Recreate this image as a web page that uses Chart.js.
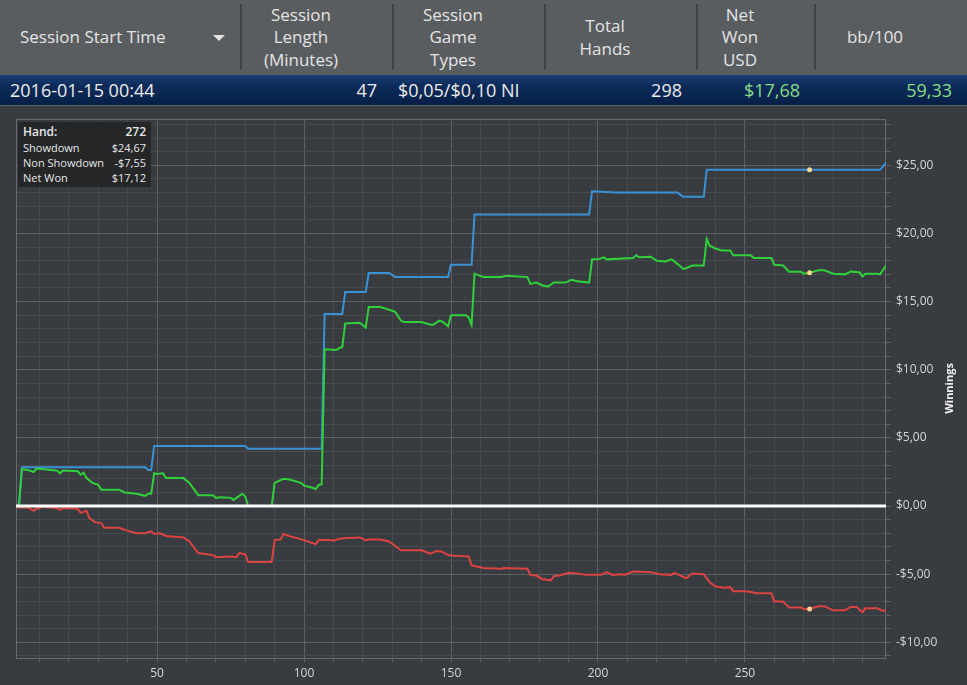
<!DOCTYPE html>
<html>
<head>
<meta charset="utf-8">
<title>Session Graph</title>
<script src="https://cdn.jsdelivr.net/npm/chart.js@4.4.1/dist/chart.umd.min.js"></script>
<style>
    html, body { margin: 0; padding: 0; }
    body {
        width: 967px; height: 685px; overflow: hidden; position: relative;
        background: #383b3f;
        font-family: "Open Sans", "Noto Sans", sans-serif;
    }
    .grid-header { position: absolute; left: 0; top: 0; width: 967px; height: 75px; background: #5a5d60; }
    .col {
        position: absolute; top: 0; height: 75px;
        display: flex; align-items: center; justify-content: center; text-align: center;
        color: #e4e4e4; font-size: 17px; line-height: 22.5px;
    }
    .col.first { justify-content: flex-start; padding-left: 20px; box-sizing: border-box; }
    .sort-arrow {
        position: absolute; left: 213px; top: 35px; width: 0; height: 0;
        border-left: 6px solid transparent; border-right: 6px solid transparent; border-top: 6px solid #e4e4e4;
    }
    .divider { position: absolute; top: 4px; width: 2px; height: 66px; background: #404246; }
    .grid-row {
        position: absolute; left: 0; top: 75px; width: 967px; height: 30px;
        background: linear-gradient(#1a4078 0%, #0c2b59 35%, #071f47 100%);
        border-bottom: 1px solid #606366;
    }
    .cell {
        position: absolute; top: 0; height: 30px; line-height: 30px;
        color: #ececec; font-size: 18px; white-space: nowrap;
    }
    .cell.green { color: #86dc86; }
    #chartWrap { position: absolute; left: 0; top: 106px; width: 967px; height: 579px; }
    .hover-box {
        position: absolute; left: 18px; top: 122px; width: 133px; height: 65px;
        background: #242628; color: #e8e8e8; box-sizing: border-box; padding: 2px 5px 0 5px;
    }
    .hover-row { display: flex; justify-content: space-between; height: 15px; line-height: 15px; font-size: 11px; }
    .hover-row.title { font-size: 12px; font-weight: 600; height: 16px; line-height: 16px; }
</style>
</head>
<body>
<div class="grid-header" id="gridHeader"></div>
<div class="grid-row" id="gridRow"></div>
<div id="chartWrap"><canvas id="winningsChart" width="967" height="579"></canvas></div>
<div class="hover-box" id="hoverBox"></div>

<script>
// Header and selected session row
const headerColumns = [
    ['Session Start Time'],
    ['Session', 'Length', '(Minutes)'],
    ['Session', 'Game', 'Types'],
    ['Total', 'Hands'],
    ['Net', 'Won', 'USD'],
    ['bb/100']
];
const sessionRow = ['2016-01-15 00:44', '47', '$0,05/$0,10 NI', '298', '$17,68', '59,33'];

// [hand, winnings]
const showdown = [
    [2, 0], [3, 0], [4, 2.85], [46, 2.85], [47, 2.65], [48, 2.65], [49, 4.4], [80, 4.4], [81, 4.2],
    [106, 4.2], [107, 14.1], [113, 14.1], [114, 15.7], [121, 15.7], [122, 17.1], [129, 17.1], [131, 16.8],
    [149, 16.8], [150, 17.7], [157, 17.7], [158, 21.4], [197, 21.4], [198, 23.1], [206, 23.0], [227, 23.0],
    [229, 22.7], [236, 22.7], [237, 24.67], [272, 24.67], [296, 24.67], [298, 25.2]
];
const nonShowdown = [
    [2, 0], [3, -0.1], [6, -0.1], [8, -0.35], [9, -0.2], [11, -0.05], [16, -0.15], [17, -0.3], [18, -0.15],
    [23, -0.2], [24, -0.5], [26, -0.35], [27, -0.9], [29, -1.2], [31, -1.25], [32, -1.6], [37, -1.6],
    [39, -1.75], [43, -2.0], [46, -2.0], [48, -1.85], [49, -2.05], [51, -2.0], [53, -2.2], [59, -2.3],
    [61, -2.6], [64, -3.45], [69, -3.6], [70, -3.75], [75, -3.7], [77, -3.75], [78, -3.45], [80, -3.55],
    [81, -4.1], [89, -4.1], [90, -2.5], [92, -2.45], [93, -2.05], [95, -2.2], [100, -2.5], [104, -2.8],
    [105, -2.5], [109, -2.5], [110, -2.55], [112, -2.4], [115, -2.35], [119, -2.3], [121, -2.5], [122, -2.45],
    [126, -2.45], [129, -2.6], [133, -3.25], [140, -3.25], [143, -3.5], [145, -3.3], [147, -3.35], [149, -3.6],
    [151, -3.65], [156, -3.7], [157, -4.35], [161, -4.55], [167, -4.6], [168, -4.55], [176, -4.6], [177, -5.05],
    [179, -5.1], [181, -5.35], [184, -5.45], [185, -5.15], [187, -5.1], [190, -4.9], [193, -4.95], [196, -5.05],
    [201, -5.05], [203, -4.85], [205, -5.05], [208, -5.0], [209, -5.05], [212, -4.8], [218, -4.85], [221, -5.0],
    [225, -5.05], [226, -4.9], [229, -5.2], [230, -5.3], [232, -4.95], [236, -5.0], [238, -5.6], [240, -5.9],
    [243, -6.0], [245, -5.95], [246, -6.25], [250, -6.25], [252, -6.3], [254, -6.4], [259, -6.4], [260, -7.0],
    [263, -7.0], [265, -7.45], [269, -7.45], [270, -7.55], [272, -7.55], [275, -7.35], [277, -7.35], [280, -7.65],
    [284, -7.65], [286, -7.4], [288, -7.4], [290, -7.8], [291, -7.5], [295, -7.5], [297, -7.7], [298, -7.65]
];
const netWon = [
    [2, 0], [3, 0], [4, 2.7], [6, 2.65], [8, 2.5], [9, 2.75], [14, 2.65], [16, 2.6], [17, 2.4], [18, 2.6],
    [23, 2.55], [24, 2.3], [25, 2.45], [26, 2.05], [28, 1.7], [30, 1.55], [31, 1.2], [37, 1.2], [39, 1.0],
    [43, 0.9], [46, 0.75], [47, 0.9], [48, 0.9], [49, 2.4], [50, 2.35], [52, 2.4], [53, 2.05], [59, 2.05],
    [61, 1.7], [64, 0.8], [69, 0.8], [70, 0.6], [72, 0.65], [75, 0.6], [76, 0.45], [79, 0.9], [80, 0.7],
    [81, 0], [89, 0], [90, 1.7], [93, 2.0], [95, 1.95], [99, 1.7], [100, 1.5], [102, 1.4], [104, 1.25],
    [105, 1.55], [106, 1.6], [107, 11.5], [111, 11.45], [112, 11.6], [113, 11.65], [114, 13.4], [119, 13.45],
    [121, 13.1], [122, 14.6], [126, 14.6], [129, 14.4], [131, 14.25], [133, 13.6], [134, 13.5], [140, 13.5],
    [143, 13.3], [144, 13.3], [146, 13.6], [147, 13.55], [149, 13.2], [150, 14.0], [155, 14.0], [156, 13.85],
    [157, 13.3], [158, 17.05], [161, 16.8], [167, 16.8], [169, 16.9], [176, 16.8], [177, 16.3], [179, 16.4],
    [181, 16.2], [183, 16.1], [185, 16.4], [189, 16.4], [191, 16.6], [193, 16.5], [197, 16.4], [198, 18.1],
    [200, 18.1], [202, 18.25], [203, 18.1], [212, 18.2], [213, 18.4], [214, 18.25], [218, 18.3], [220, 18.0],
    [223, 17.95], [225, 18.1], [226, 17.95], [228, 17.6], [229, 17.4], [230, 17.45], [232, 17.65], [236, 17.65],
    [237, 19.6], [238, 19.1], [240, 18.9], [242, 18.75], [245, 18.75], [246, 18.4], [252, 18.4], [253, 18.2],
    [259, 18.2], [260, 17.7], [263, 17.65], [265, 17.2], [269, 17.2], [270, 17.05], [272, 17.12], [275, 17.3],
    [277, 17.3], [280, 17.05], [284, 17.0], [286, 17.2], [289, 17.15], [290, 16.85], [291, 17.05], [295, 17.05],
    [296, 17.0], [298, 17.65]
];

const hoverHand = 272;
const xTickLabels = [50, 100, 150, 200, 250];
const yTickLabels = [-10, -5, 0, 5, 10, 15, 20, 25];

const SessionGraph = {
    chart: null,

    init() {
        Chart.defaults.font.family = '"Open Sans", "Noto Sans", sans-serif';
        this.renderHeader();
        this.renderHoverBox();
        this.renderChart();
    },

    money(v) {
        const s = '$' + Math.abs(v).toFixed(2).replace('.', ',');
        return v < 0 ? '-' + s : s;
    },

    renderHeader() {
        const edges = [0, 241, 393, 545, 697, 815, 967];
        const header = document.getElementById('gridHeader');
        header.innerHTML = headerColumns.map((lines, i) => {
            const left = edges[i], width = edges[i + 1] - edges[i] - (i === 0 ? 0 : 32);
            return `<div class="col${i === 0 ? ' first' : ''}" style="left:${left}px;width:${width}px">${lines.join('<br>')}</div>`;
        }).join('') + '<div class="sort-arrow"></div>' +
            edges.slice(1, -1).map(x => `<div class="divider" style="left:${x - 1}px"></div>`).join('');

        // alignment per column: [side, padding]
        const align = [['left', 10], ['right', 16], ['left', 5], ['right', 15], ['right', 15], ['right', 15]];
        document.getElementById('gridRow').innerHTML = sessionRow.map((text, i) => {
            const [side, pad] = align[i];
            const pos = side === 'left' ? `left:${edges[i] + pad}px` : `right:${967 - edges[i + 1] + pad}px`;
            const cls = i >= 4 ? 'cell green' : 'cell';
            return `<div class="${cls}" style="${pos}">${text}</div>`;
        }).join('');
    },

    renderHoverBox() {
        const at = (series) => series.find(p => p[0] === hoverHand)[1];
        const rows = [
            ['Showdown', this.money(at(showdown))],
            ['Non Showdown', this.money(at(nonShowdown))],
            ['Net Won', this.money(at(netWon))]
        ];
        document.getElementById('hoverBox').innerHTML =
            `<div class="hover-row title"><span>Hand:</span><span>${hoverHand}</span></div>` +
            rows.map(r => `<div class="hover-row"><span>${r[0]}</span><span>${r[1]}</span></div>`).join('');
    },

    makeDataset(label, series, color) {
        return {
            label,
            data: series.map(p => ({ x: p[0], y: p[1] })),
            borderColor: color,
            borderWidth: 2,
            tension: 0,
            pointRadius: (c) => (c.raw && c.raw.x === hoverHand ? 2.5 : 0),
            pointBackgroundColor: '#f8d890',
            pointBorderWidth: 0
        };
    },

    renderChart() {
        const ctx = document.getElementById('winningsChart');

        const framePlugin = {
            id: 'frame',
            beforeDatasetsDraw(chart) {
                const { ctx, chartArea: a } = chart;
                ctx.save();
                ctx.strokeStyle = '#66696d';
                ctx.lineWidth = 1;
                ctx.strokeRect(a.left + 0.5, a.top + 0.5, a.right - a.left - 1, a.bottom - a.top);
                ctx.restore();
            },
            afterDatasetsDraw(chart) {
                // zero line sits on top of the series
                const { ctx, chartArea: a, scales } = chart;
                const y = scales.y.getPixelForValue(0);
                ctx.save();
                ctx.strokeStyle = '#ffffff';
                ctx.lineWidth = 3;
                ctx.beginPath();
                ctx.moveTo(a.left, y);
                ctx.lineTo(a.right, y);
                ctx.stroke();
                ctx.restore();
            },
            afterDraw(chart) {
                const { ctx, chartArea: a } = chart;
                ctx.save();
                ctx.translate(chart.width - 17, (a.top + a.bottom) / 2);
                ctx.rotate(-Math.PI / 2);
                ctx.font = 'bold 11px "Open Sans", "Noto Sans", sans-serif';
                ctx.fillStyle = '#f0f0f0';
                ctx.textAlign = 'center';
                ctx.textBaseline = 'middle';
                ctx.fillText('Winnings', 0, 0);
                ctx.restore();
            }
        };

        this.chart = new Chart(ctx, {
            type: 'line',
            data: {
                datasets: [
                    this.makeDataset('Net Won', netWon, '#2fd03a'),
                    this.makeDataset('Showdown', showdown, '#3a92d6'),
                    this.makeDataset('Non Showdown', nonShowdown, '#dc4343')
                ]
            },
            options: {
                responsive: false,
                animation: false,
                layout: { padding: { left: 16, top: 13, right: 0, bottom: 0 } },
                plugins: { legend: { display: false }, tooltip: { enabled: false } },
                scales: {
                    x: {
                        type: 'linear',
                        min: 2,
                        max: 298,
                        afterFit: (s) => { s.height = 27; },
                        border: { display: false },
                        grid: {
                            color: (c) => (c.tick && c.tick.value % 50 === 0 ? '#5d6064' : '#46494d'),
                            tickColor: '#5d6064',
                            tickLength: 4
                        },
                        ticks: {
                            stepSize: 10,
                            autoSkip: false,
                            includeBounds: false,
                            maxRotation: 0,
                            padding: 4,
                            color: '#d6d6d6',
                            font: { size: 12 },
                            callback: (v) => (xTickLabels.includes(v) ? String(v) : '')
                        }
                    },
                    y: {
                        position: 'right',
                        min: -11.15,
                        max: 28.4,
                        afterFit: (s) => { s.width = 81; },
                        border: { display: false },
                        grid: {
                            color: (c) => (c.tick && c.tick.value % 5 === 0 ? '#5d6064' : '#46494d'),
                            tickColor: '#5d6064',
                            tickLength: 5
                        },
                        ticks: {
                            stepSize: 1,
                            autoSkip: false,
                            includeBounds: false,
                            padding: 5,
                            color: '#d6d6d6',
                            font: { size: 12 },
                            callback: (v) => (yTickLabels.includes(v) ? SessionGraph.money(v) : '')
                        }
                    }
                }
            },
            plugins: [framePlugin]
        });
    }
};

document.addEventListener('DOMContentLoaded', () => SessionGraph.init());
</script>
</body>
</html>
